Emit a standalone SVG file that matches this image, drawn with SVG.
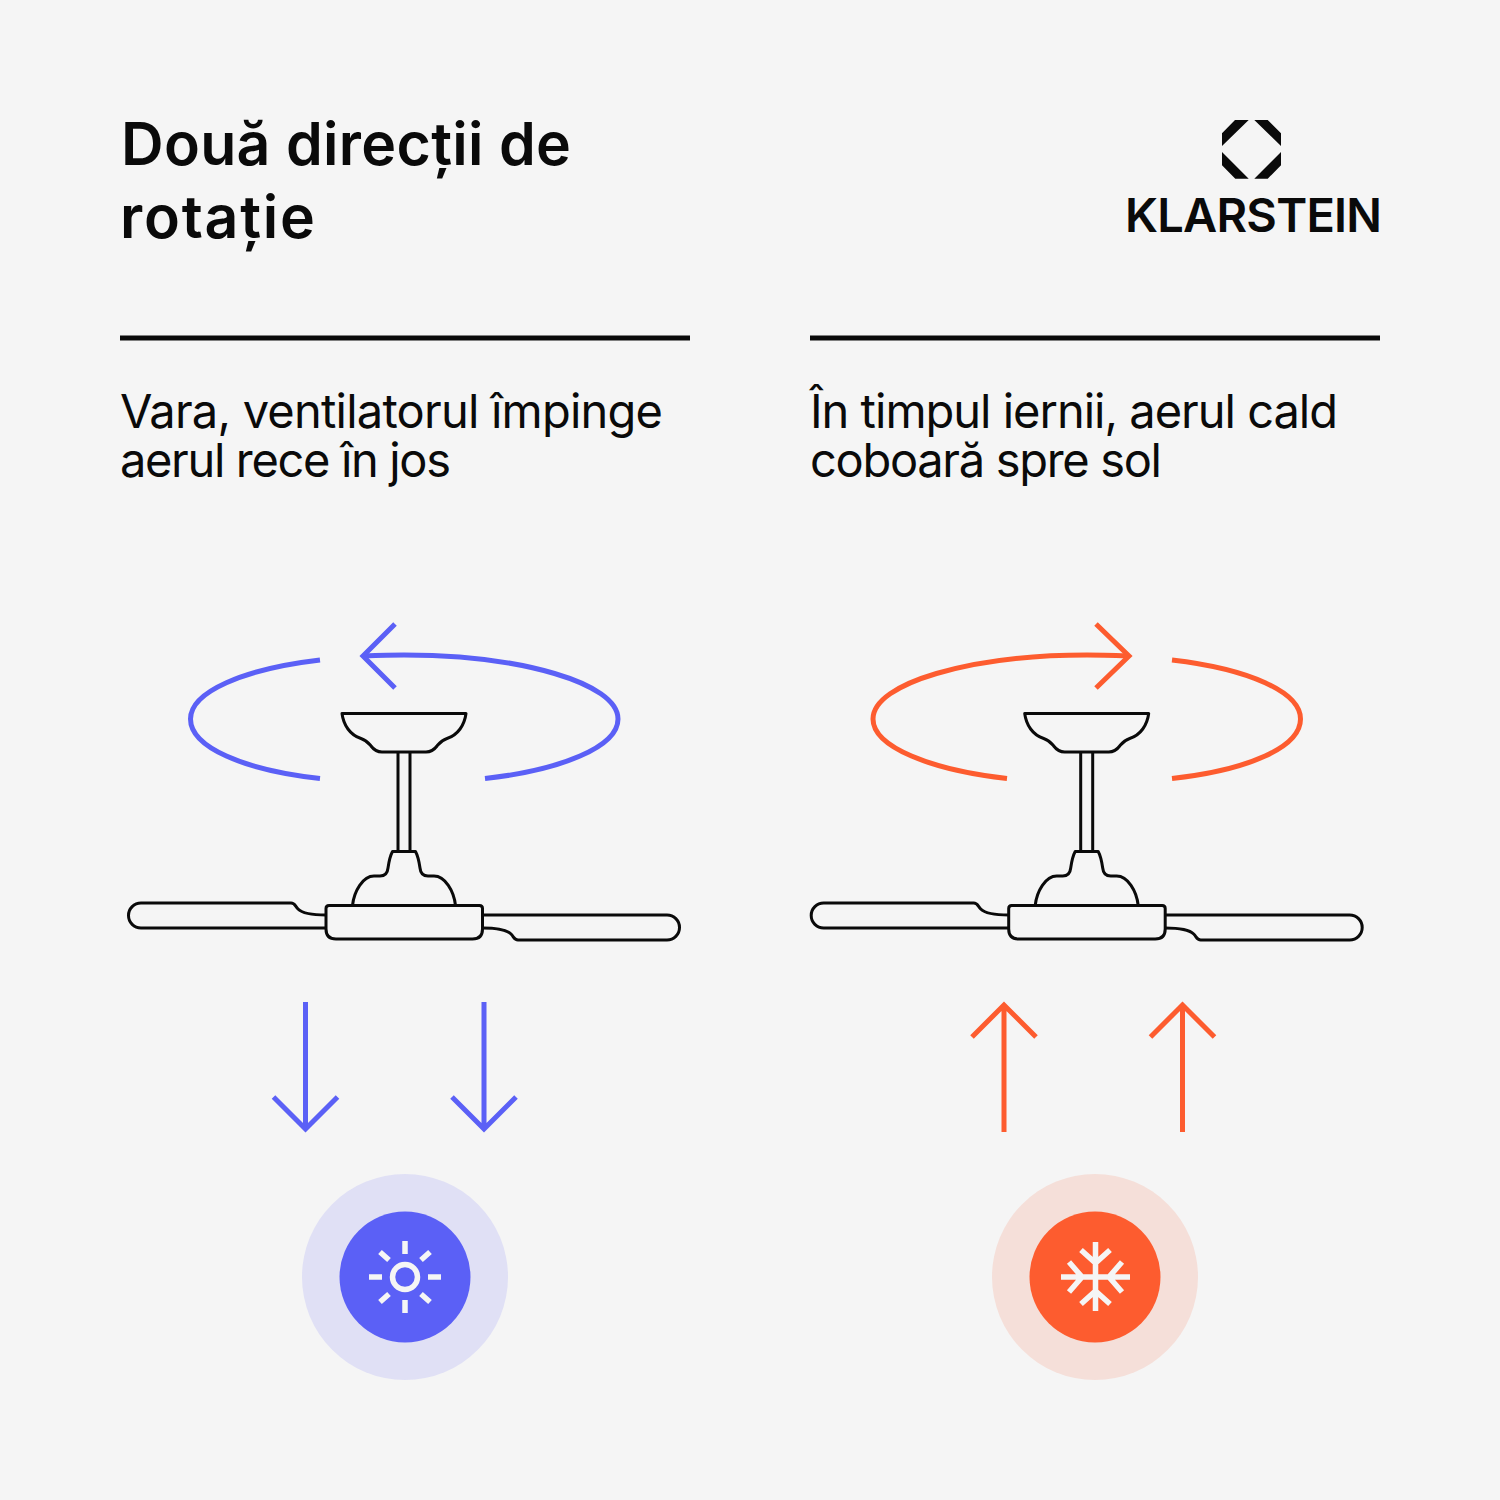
<svg xmlns="http://www.w3.org/2000/svg" width="1500" height="1500" viewBox="0 0 1500 1500">
<style>
.t{font-family:"Inter","Liberation Sans",sans-serif;fill:#0a0a0a}
.h{font-size:59px;font-weight:600}
.b{font-size:47px;font-weight:400}
.logo{font-size:47px;font-weight:600}
.f{fill:none;stroke:#0a0a0a;stroke-width:3;stroke-linejoin:round}
.blue{fill:none;stroke:#5b60f6;stroke-width:5}
.org{fill:none;stroke:#fd5c2f;stroke-width:5}
.ic{fill:none;stroke:#f5f5f5;stroke-width:5.500}
</style>
<defs>
<g id="fan">
<path class="f" d="M342 713.500H466C464.500 725 458 735 447 738.500C441 740.500 439.500 743 437 746C434 750 431 752 426 752H382C377 752 374 750 371 746C368.500 743 367 740.500 361 738.500C350 735 343.500 725 342 713.500Z"/>
<path class="f" d="M398 752V851M410 752V851"/>
<path class="f" d="M352.500 905.500C354 891 363 876 374 876H380C385 876 387.500 873 388 868C389 861 390 856 392.500 851.500H415.500C418 856 419 861 420 868C420.500 873 423 876 428 876H434C445 876 454 891 455.500 905.500"/>
<path class="f" d="M329 905.500H479.500Q482.500 905.500 482.500 908.500V929Q482.500 939 472.500 939H336Q326 939 326 929V908.500Q326 905.500 329 905.500Z"/>
<path class="f" d="M326 928H141A12.500 12.500 0 0 1 141 903H291C295 903 295 906 298 909C302 913 312 915 326 915"/>
<path class="f" d="M482.500 915H667A12.500 12.500 0 0 1 667 940H518C514 940 514 937 511 934C507 930 497 928 482.500 928"/>
</g>
</defs>
<rect id="background" width="1500" height="1500" fill="#f5f5f5"/>
<g id="title">
<text class="t h" x="121" y="165" textLength="450">Două direcții de</text>
<text class="t h" x="120" y="238" textLength="195">rotație</text>
</g>
<g id="logo">
<path fill="#0a0a0a" d="M1222 146V133.300L1235 120H1248.700ZM1254.300 120H1267.700L1281 133.300V146ZM1222 152V165.300L1235.300 178.700H1248.700ZM1281 152V165.300L1267.700 178.700H1254.300Z"/>
<text class="t logo" x="1125" y="232" textLength="257">KLARSTEIN</text>
</g>
<g id="rules">
<rect x="120" y="335.500" width="570" height="5" fill="#0a0a0a"/>
<rect x="810" y="335.500" width="570" height="5" fill="#0a0a0a"/>
</g>
<g id="text-left">
<text class="t b" x="120" y="428" textLength="543">Vara, ventilatorul împinge</text>
<text class="t b" x="120" y="477" textLength="331">aerul rece în jos</text>
</g>
<g id="text-right">
<text class="t b" x="810" y="428" textLength="528">În timpul iernii, aerul cald</text>
<text class="t b" x="810" y="477" textLength="352">coboară spre sol</text>
</g>
<g id="fan-left"><use href="#fan"/></g>
<g id="fan-right"><use href="#fan" x="682.700"/></g>
<g id="connectors">
<path class="blue" d="M320 660C243 669 190.500 692 190.500 719C190.500 747 243 770 320 778.500"/>
<path class="blue" d="M485 778.500C561 770 618 747 618 719C618 683 520 655 404 655C390 655 376 655.500 363 656"/>
<path class="blue" d="M395 624L363 656L395 688"/>
<path class="org" d="M1172 660C1249 669 1300.500 692 1300.500 719C1300.500 747 1249 770 1172 778.500"/>
<path class="org" d="M1007 778.500C931 770 873 747 873 719C873 683 971 655 1087 655C1101 655 1115 655.500 1129 656"/>
<path class="org" d="M1096 624L1129 656L1096 688"/>
<path class="blue" d="M305.500 1002V1129M273.500 1097L305.500 1129L337.500 1097"/>
<path class="blue" d="M484 1002V1129M452 1097L484 1129L516 1097"/>
<path class="org" d="M1004 1132V1005M972 1037L1004 1005L1036 1037"/>
<path class="org" d="M1182.500 1132V1005M1150.500 1037L1182.500 1005L1214.500 1037"/>
</g>
<g id="badge-sun">
<circle cx="405" cy="1277" r="103" fill="#e0e0f5"/>
<circle cx="405" cy="1277" r="65.500" fill="#5b60f6"/>
<circle class="ic" cx="405" cy="1277" r="12.500"/>
<path class="ic" d="M405 1241V1254M405 1300V1313M369 1277H382M428 1277H441M380 1252L389 1260M430 1252L421 1260M380 1302L389 1294M430 1302L421 1294"/>
</g>
<g id="badge-snow">
<circle cx="1095" cy="1277" r="103" fill="#f5dfd9"/>
<circle cx="1095" cy="1277" r="65.500" fill="#fd5c2f"/>
<path class="ic" d="M1095.500 1242V1311M1061 1277H1130M1081 1250L1095.500 1263L1110 1250M1081 1304L1095.500 1291L1110 1304M1069 1262L1082 1277L1069 1292M1122 1262L1109 1277L1122 1292"/>
</g>
</svg>
